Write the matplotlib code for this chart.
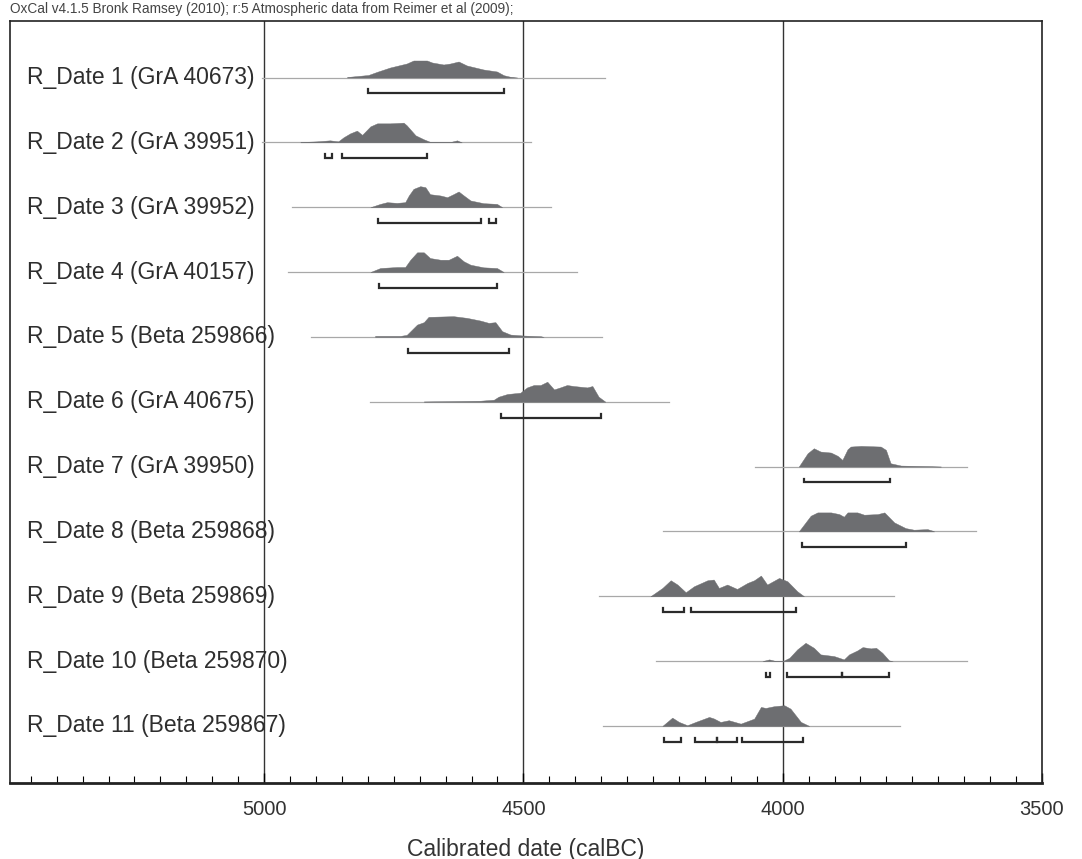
import matplotlib
matplotlib.use("Agg")
import matplotlib.pyplot as plt

plt.rcParams['font.family'] = ['Liberation Sans', 'DejaVu Sans']

labels = ["R_Date 1 (GrA 40673)", "R_Date 2 (GrA 39951)", "R_Date 3 (GrA 39952)",
          "R_Date 4 (GrA 40157)", "R_Date 5 (Beta 259866)", "R_Date 6 (GrA 40675)",
          "R_Date 7 (GrA 39950)", "R_Date 8 (Beta 259868)", "R_Date 9 (Beta 259869)",
          "R_Date 10 (Beta 259870)", "R_Date 11 (Beta 259867)"]

# full extent of calibrated distribution (thin line), calBC
line_ranges = [(5005, 4342), (5005, 4485), (4946, 4446), (4954, 4396), (4909, 4349),
               (4795, 4219), (4054, 3644), (4230, 3627), (4355, 3785), (4245, 3645),
               (4346, 3774)]

# probability density outlines (year calBC, relative height)
d1_years = [4840, 4799, 4782, 4757, 4725, 4712, 4686, 4676, 4654, 4641, 4625, 4609, 4577, 4551, 4538, 4525, 4512]
d1_h = [0.5, 2.5, 5.7, 10, 14, 17, 17, 15, 13, 14, 16, 12, 8, 6, 2.3, 0.7, 0]
d2_years = [4930, 4898, 4873, 4857, 4847, 4834, 4821, 4811, 4795, 4782, 4757, 4731, 4725, 4708, 4692, 4680, 4641, 4628, 4619]
d2_h = [0.3, 1, 2, 1, 5, 9, 11.7, 7.5, 16, 19, 19, 19.7, 17, 7, 3, 0.5, 0.3, 2, 0]
d3_years = [4795, 4776, 4763, 4744, 4728, 4721, 4712, 4699, 4689, 4680, 4660, 4647, 4635, 4625, 4615, 4602, 4577, 4551, 4541]
d3_h = [0, 3.3, 5, 4.3, 5, 11.7, 18.3, 21, 20, 13, 11.7, 10, 13, 15.7, 11.7, 6.7, 4, 3.3, 0]
d4_years = [4795, 4776, 4744, 4728, 4718, 4705, 4692, 4680, 4660, 4644, 4628, 4615, 4602, 4577, 4551, 4538]
d4_h = [0, 4, 5, 5, 12.3, 19.7, 19.7, 14, 12.3, 12.3, 16.3, 10.7, 7.3, 4.7, 4, 0]
d5_years = [4786, 4737, 4725, 4705, 4692, 4683, 4635, 4609, 4583, 4567, 4554, 4541, 4525, 4499, 4467, 4461]
d5_h = [1, 1, 2, 12.3, 14.7, 20, 20.7, 19, 16.3, 14, 14.7, 5.7, 2.3, 1.3, 0.7, 0]
d6_years = [4692, 4583, 4557, 4548, 4531, 4506, 4493, 4480, 4467, 4454, 4441, 4429, 4416, 4403, 4377, 4367, 4355, 4342]
d6_h = [0.3, 1, 2, 5, 7.7, 9, 14.3, 16.7, 16.7, 20, 12.3, 14.3, 16.7, 15.7, 14.3, 15.7, 5, 0]
d7_years = [3969, 3952, 3940, 3927, 3907, 3894, 3885, 3875, 3869, 3849, 3811, 3801, 3792, 3772, 3714, 3695]
d7_h = [0, 13.3, 18.3, 15, 14, 10.7, 6.7, 17.3, 20, 20.7, 20, 16.7, 3.3, 1, 0.3, 0]
d8_years = [3969, 3946, 3933, 3907, 3891, 3882, 3875, 3856, 3843, 3817, 3804, 3785, 3763, 3747, 3721, 3711, 3708]
d8_h = [0, 15.7, 19, 19, 17.3, 14.7, 19, 19, 16.7, 17.3, 19, 9, 3.3, 1.7, 2.3, 0.7, 0]
d9_years = [4255, 4232, 4216, 4203, 4187, 4171, 4145, 4133, 4123, 4107, 4088, 4068, 4055, 4042, 4030, 4007, 3991, 3972, 3959]
d9_h = [0, 8.3, 16, 11.7, 4, 10, 16, 16.7, 8.3, 11.7, 7.3, 13.3, 16, 20.7, 11.7, 18.3, 15, 5, 0]
d10_years = [4039, 4026, 4013, 4000, 3987, 3972, 3956, 3940, 3927, 3901, 3882, 3872, 3856, 3846, 3830, 3820, 3808, 3795, 3788]
d10_h = [0, 1.7, 0, 0, 3.3, 11.7, 18.3, 13.3, 6.7, 5, 1.7, 6.7, 10.7, 14, 12.7, 13.3, 8.3, 0.7, 0]
d11_years = [4232, 4213, 4200, 4184, 4168, 4142, 4133, 4120, 4104, 4081, 4055, 4042, 4033, 4017, 3997, 3985, 3965, 3949]
d11_h = [0, 8.3, 4, 0.7, 4, 9, 7.5, 4, 5.7, 2.3, 7.3, 19, 18, 19.7, 20.7, 17.3, 4, 0]

dens_years = [d1_years, d2_years, d3_years, d4_years, d5_years, d6_years,
              d7_years, d8_years, d9_years, d10_years, d11_years]
dens_heights = [d1_h, d2_h, d3_h, d4_h, d5_h, d6_h, d7_h, d8_h, d9_h, d10_h, d11_h]

# highest posterior density ranges (brackets)
hpd_ranges = [
    [(4799, 4537)],
    [(4882, 4869), (4850, 4686)],
    [(4781, 4581), (4567, 4552)],
    [(4778, 4550)],
    [(4723, 4528)],
    [(4544, 4350)],
    [(3958, 3793)],
    [(3962, 3763)],
    [(4230, 4190), (4176, 3975)],
    [(4033, 4025), (3991, 3886), (3886, 3795)],
    [(4228, 4197), (4169, 4126), (4126, 4088), (4079, 3960)],
]

major_ticks = [5000, 4500, 4000, 3500]

ROW = 64.85  # pixel spacing of rows used to scale relative heights

fig = plt.figure(figsize=(10.82, 8.59), dpi=100)
ax = fig.add_axes([10 / 1082, 1 - 783 / 859, 1032 / 1082, (783 - 20.7) / 859])
ax.set_xlim(5490, 3500)
ax.set_ylim(10.88, -0.876)

for v in major_ticks[:3]:
    ax.axvline(v, color='#333333', lw=1.0, zorder=1)

fill_col = '#6d6e71'
for i in range(len(labels)):
    a, b = line_ranges[i]
    ax.plot([a, b], [i, i], color='#a8a8a8', lw=0.9, zorder=2)
    yy = dens_years[i]
    hh = [i - h / ROW for h in dens_heights[i]]
    ax.fill_between(yy, [i] * len(yy), hh, color=fill_col, lw=0.3, zorder=3)
    by = i + 0.245
    t = 0.06
    for (s, e) in hpd_ranges[i]:
        ax.plot([s, s, e, e], [by - t, by, by, by - t], color='#2b2b2b', lw=1.6,
                solid_joinstyle='miter', zorder=4)
    ax.text(5457, i, labels[i], fontsize=16.5, ha='left', va='center',
            color='#2e2e2e', zorder=5)

ax.set_yticks([])
ax.set_xticks(major_ticks)
ax.set_xticklabels([str(v) for v in major_ticks], fontsize=14.5, color='#333333')
ax.set_xticks(list(range(5450, 3499, -50)), minor=True)
ax.tick_params(axis='x', which='major', direction='in', length=7, width=1.0, pad=12)
ax.tick_params(axis='x', which='minor', direction='in', length=5, width=0.8)
for sp in ax.spines.values():
    sp.set_linewidth(1.2)
    sp.set_color('#222222')
ax.spines['bottom'].set_linewidth(2.0)
ax.set_xlabel("Calibrated date (calBC)", fontsize=16.5, color='#333333', labelpad=14)

fig.text(10 / 1082, 1 - 9 / 859,
         "OxCal v4.1.5 Bronk Ramsey (2010); r:5 Atmospheric data from Reimer et al (2009);",
         fontsize=9.8, ha='left', va='center', color='#444444')

fig.savefig("out.png", dpi=100)
